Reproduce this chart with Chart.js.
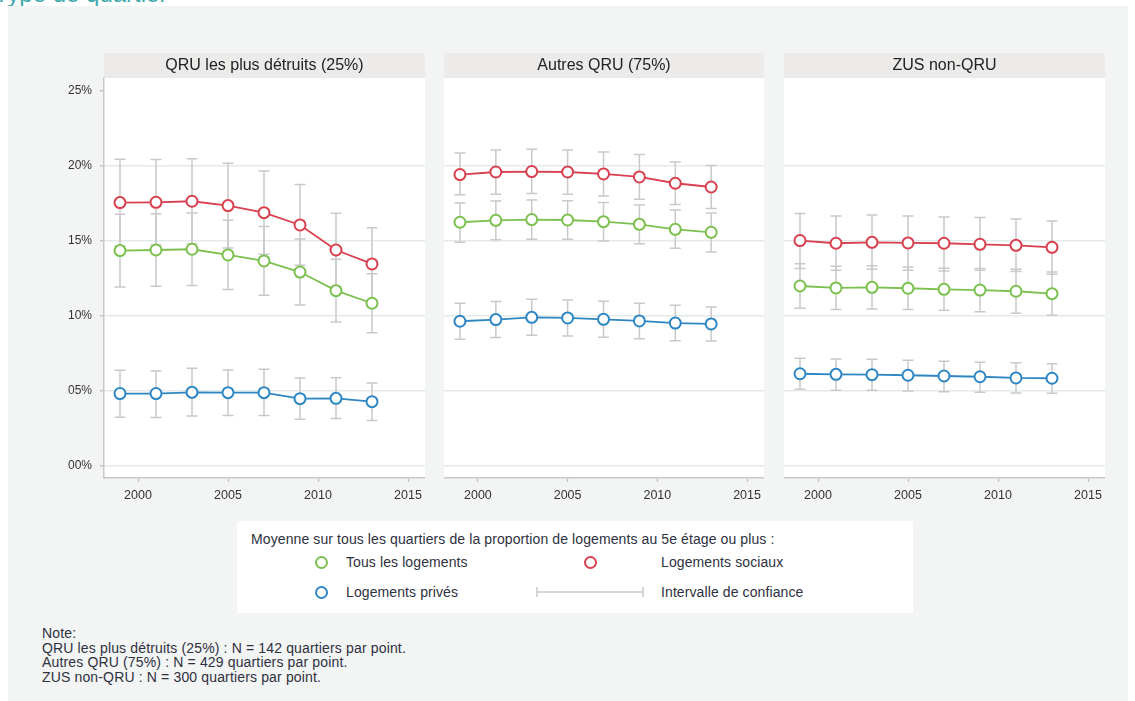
<!DOCTYPE html>
<html>
<head>
<meta charset="utf-8">
<script src="https://cdn.jsdelivr.net/npm/chart.js@4.4.1/dist/chart.umd.min.js"></script>
<style>
  body { margin: 0; background: #fff; font-family: "Liberation Sans", Arial, sans-serif; }
  #page { position: relative; width: 1135px; height: 701px; overflow: hidden; background: #fff; }
  #toptitle { position: absolute; left: -6px; top: -18px; font-size: 24px; line-height: 24px; color: #3ea8ac; white-space: nowrap; }
  #bg { position: absolute; left: 8px; top: 6px; width: 1120px; height: 695px; background: #f3f4f4; }
  canvas { position: absolute; }
  #legend { position: absolute; left: 237px; top: 521px; width: 676px; height: 92px; background: #fff; color: #2e3140; font-size: 14px; letter-spacing: 0.1px; }
  #legend .t { position: absolute; white-space: nowrap; }
  #legend .dot { position: absolute; width: 9px; height: 9px; border-radius: 50%; border: 2px solid; background: #fff; }
  #note { position: absolute; left: 42px; top: 626px; font-size: 14px; line-height: 14.6px; letter-spacing: 0.15px; color: #2e3140; white-space: nowrap; }
</style>
</head>
<body>
<div id="page">
  <div id="toptitle">Type de quartier</div>
  <div id="bg"></div>
  <canvas id="panel1" width="395" height="468" style="left:30px;top:50px"></canvas>
  <canvas id="panel2" width="320" height="468" style="left:444px;top:50px"></canvas>
  <canvas id="panel3" width="321" height="468" style="left:784px;top:50px"></canvas>
  <div id="legend"></div>
  <div id="note">Note:<br>QRU les plus détruits (25%) : N = 142 quartiers par point.<br>Autres QRU (75%) : N = 429 quartiers par point.<br>ZUS non-QRU : N = 300 quartiers par point.</div>
</div>
<script>
const years = [1999, 2001, 2003, 2005, 2007, 2009, 2011, 2013];
const xTicks = [2000, 2005, 2010, 2015];
const yTicks = [0, 5, 10, 15, 20, 25];
const panelTitles = ['QRU les plus détruits (25%)', 'Autres QRU (75%)', 'ZUS non-QRU'];
const seriesNames = ['Tous les logements', 'Logements sociaux', 'Logements privés'];
const legendTitle = 'Moyenne sur tous les quartiers de la proportion de logements au 5e étage ou plus :';
const ciName = 'Intervalle de confiance';

// QRU les plus détruits
const p1Tous = [14.36, 14.40, 14.45, 14.07, 13.67, 12.93, 11.69, 10.85];
const p1TousLo = [11.93, 11.98, 12.03, 11.76, 11.38, 10.73, 9.60, 8.89];
const p1TousHi = [16.79, 16.82, 16.87, 16.38, 15.96, 15.13, 13.78, 12.81];
const p1Sociaux = [17.56, 17.58, 17.65, 17.36, 16.89, 16.07, 14.40, 13.47];
const p1SociauxLo = [14.67, 14.73, 14.81, 14.54, 14.11, 13.38, 11.95, 11.05];
const p1SociauxHi = [20.45, 20.43, 20.49, 20.18, 19.67, 18.76, 16.85, 15.89];
const p1Prives = [4.83, 4.83, 4.91, 4.89, 4.89, 4.49, 4.51, 4.29];
const p1PrivesLo = [3.25, 3.23, 3.33, 3.36, 3.36, 3.11, 3.16, 3.03];
const p1PrivesHi = [6.38, 6.33, 6.51, 6.40, 6.45, 5.87, 5.89, 5.53];

// Autres QRU
const p2Tous = [16.25, 16.38, 16.43, 16.40, 16.29, 16.11, 15.78, 15.58];
const p2TousLo = [14.91, 15.09, 15.11, 15.11, 15.00, 14.82, 14.51, 14.27];
const p2TousHi = [17.53, 17.67, 17.73, 17.69, 17.56, 17.40, 17.07, 16.87];
const p2Sociaux = [19.43, 19.60, 19.63, 19.60, 19.47, 19.27, 18.85, 18.60];
const p2SociauxLo = [18.09, 18.11, 18.16, 18.11, 18.00, 17.78, 17.43, 17.16];
const p2SociauxHi = [20.87, 21.07, 21.11, 21.07, 20.93, 20.76, 20.27, 20.03];
const p2Prives = [9.65, 9.76, 9.91, 9.87, 9.78, 9.67, 9.53, 9.47];
const p2PrivesLo = [8.45, 8.56, 8.71, 8.67, 8.58, 8.49, 8.35, 8.34];
const p2PrivesHi = [10.85, 10.96, 11.11, 11.07, 10.98, 10.85, 10.71, 10.60];

// ZUS non-QRU
const p3Tous = [12.00, 11.87, 11.91, 11.85, 11.78, 11.73, 11.65, 11.49];
const p3TousLo = [10.51, 10.43, 10.47, 10.43, 10.38, 10.29, 10.18, 10.05];
const p3TousHi = [13.49, 13.31, 13.35, 13.27, 13.18, 13.17, 13.12, 12.93];
const p3Sociaux = [15.03, 14.85, 14.91, 14.87, 14.85, 14.78, 14.71, 14.58];
const p3SociauxLo = [13.16, 13.05, 13.11, 13.05, 13.00, 13.05, 12.96, 12.78];
const p3SociauxHi = [16.83, 16.67, 16.73, 16.67, 16.60, 16.56, 16.47, 16.33];
const p3Prives = [6.15, 6.11, 6.09, 6.05, 6.00, 5.95, 5.87, 5.85];
const p3PrivesLo = [5.11, 5.05, 5.05, 5.00, 4.95, 4.91, 4.87, 4.85];
const p3PrivesHi = [7.18, 7.13, 7.11, 7.05, 6.98, 6.91, 6.89, 6.82];

const colors = ['#7cc04f', '#d8404f', '#2e87c3'];
const ciColor = '#c9c9c9';
const font = '"Liberation Sans", Arial, sans-serif';

// white plot area + grey strip with panel title
const panelFrame = {
    id: 'panelFrame',
    beforeDraw(chart, args, opts) {
        const { ctx, chartArea: a } = chart;
        ctx.save();
        ctx.fillStyle = '#fff';
        ctx.fillRect(a.left, a.top, a.right - a.left, a.bottom - a.top);
        ctx.fillStyle = '#ecebea';
        ctx.fillRect(a.left, a.top - 25, a.right - a.left, 25);
        ctx.fillStyle = '#222';
        ctx.font = '16px ' + font;
        ctx.textAlign = 'center';
        ctx.textBaseline = 'middle';
        ctx.fillText(opts.title, (a.left + a.right) / 2, a.top - 12);
        ctx.restore();
    }
};

const errorBars = {
    id: 'errorBars',
    beforeDatasetsDraw(chart) {
        const { ctx, scales: { x, y } } = chart;
        ctx.save();
        ctx.strokeStyle = ciColor;
        ctx.lineWidth = 1.5;
        chart.data.datasets.forEach(ds => {
            ds.lo.forEach((lo, i) => {
                const px = x.getPixelForValue(years[i]);
                const top = y.getPixelForValue(ds.hi[i]);
                const bot = y.getPixelForValue(lo);
                ctx.beginPath();
                ctx.moveTo(px, top); ctx.lineTo(px, bot);
                ctx.moveTo(px - 5.5, top); ctx.lineTo(px + 5.5, top);
                ctx.moveTo(px - 5.5, bot); ctx.lineTo(px + 5.5, bot);
                ctx.stroke();
            });
        });
        ctx.restore();
    }
};

function makeDataset(values, lo, hi, color) {
    return {
        data: years.map((yr, i) => ({ x: yr, y: values[i] })),
        lo: lo,
        hi: hi,
        borderColor: color,
        backgroundColor: '#fff',
        borderWidth: 1.8,
        pointRadius: 5.5,
        pointBorderWidth: 2,
        pointBackgroundColor: '#fff',
        pointBorderColor: color,
        tension: 0
    };
}

function makePanel(id, title, series, showY) {
    new Chart(document.getElementById(id), {
        type: 'line',
        data: {
            datasets: series.map((s, i) => makeDataset(s[0], s[1], s[2], colors[i]))
        },
        options: {
            responsive: false,
            animation: false,
            layout: { autoPadding: false, padding: { top: 28, right: 0, left: 0, bottom: 0 } },
            plugins: {
                legend: { display: false },
                tooltip: { enabled: false },
                panelFrame: { title: title }
            },
            scales: {
                x: {
                    type: 'linear',
                    min: 1998.111,
                    max: 2015.944,
                    afterBuildTicks: s => { s.ticks = xTicks.map(v => ({ value: v })); },
                    afterFit: s => { s.height = 40; s.paddingLeft = 0; s.paddingRight = 0; },
                    grid: { drawOnChartArea: false, tickLength: 4, tickColor: '#c4c4c4', tickWidth: 1.5 },
                    border: { color: '#c8c8c8', width: 1.5 },
                    ticks: { padding: 6, color: '#333', font: { family: font, size: 12.5 }, callback: v => String(v), maxRotation: 0 }
                },
                y: {
                    min: -0.8,
                    max: 25.867,
                    afterBuildTicks: s => { s.ticks = yTicks.map(v => ({ value: v })); },
                    afterFit: s => { s.width = showY ? 74 : 0; s.paddingTop = 0; s.paddingBottom = 0; },
                    grid: {
                        color: c => (c.tick && c.tick.value === 25) ? 'rgba(0,0,0,0)' : '#e2eaea',
                        lineWidth: 1.5,
                        drawTicks: showY,
                        tickLength: 4,
                        tickColor: '#c4c4c4'
                    },
                    border: { display: showY, color: '#c8c8c8', width: 1.5 },
                    ticks: {
                        display: showY,
                        padding: 8,
                        color: '#333',
                        font: { family: font, size: 12 },
                        callback: v => String(v).padStart(2, '0') + '%'
                    }
                }
            }
        },
        plugins: [panelFrame, errorBars]
    });
}

makePanel('panel1', panelTitles[0], [[p1Tous, p1TousLo, p1TousHi], [p1Sociaux, p1SociauxLo, p1SociauxHi], [p1Prives, p1PrivesLo, p1PrivesHi]], true);
makePanel('panel2', panelTitles[1], [[p2Tous, p2TousLo, p2TousHi], [p2Sociaux, p2SociauxLo, p2SociauxHi], [p2Prives, p2PrivesLo, p2PrivesHi]], false);
makePanel('panel3', panelTitles[2], [[p3Tous, p3TousLo, p3TousHi], [p3Sociaux, p3SociauxLo, p3SociauxHi], [p3Prives, p3PrivesLo, p3PrivesHi]], false);

// legend box
const legend = document.getElementById('legend');
function addText(txt, left, top) {
    const d = document.createElement('div');
    d.className = 't';
    d.textContent = txt;
    d.style.left = left + 'px';
    d.style.top = top + 'px';
    legend.appendChild(d);
}
function addDot(color, cx, cy) {
    const d = document.createElement('div');
    d.className = 'dot';
    d.style.borderColor = color;
    d.style.left = (cx - 6.5) + 'px';
    d.style.top = (cy - 6.5) + 'px';
    legend.appendChild(d);
}
addText(legendTitle, 14, 10);
addDot(colors[0], 84, 41);
addText(seriesNames[0], 109, 33);
addDot(colors[1], 353, 41);
addText(seriesNames[1], 424, 33);
addDot(colors[2], 84, 71);
addText(seriesNames[2], 109, 63);
addText(ciName, 424, 63);
const ci = document.createElement('canvas');
ci.width = 112; ci.height = 12;
ci.style.left = '297px'; ci.style.top = '65px';
legend.appendChild(ci);
const c = ci.getContext('2d');
c.strokeStyle = ciColor; c.lineWidth = 1.5;
c.beginPath();
c.moveTo(3, 6); c.lineTo(109, 6);
c.moveTo(3, 1); c.lineTo(3, 11);
c.moveTo(109, 1); c.lineTo(109, 11);
c.stroke();
</script>
</body>
</html>
